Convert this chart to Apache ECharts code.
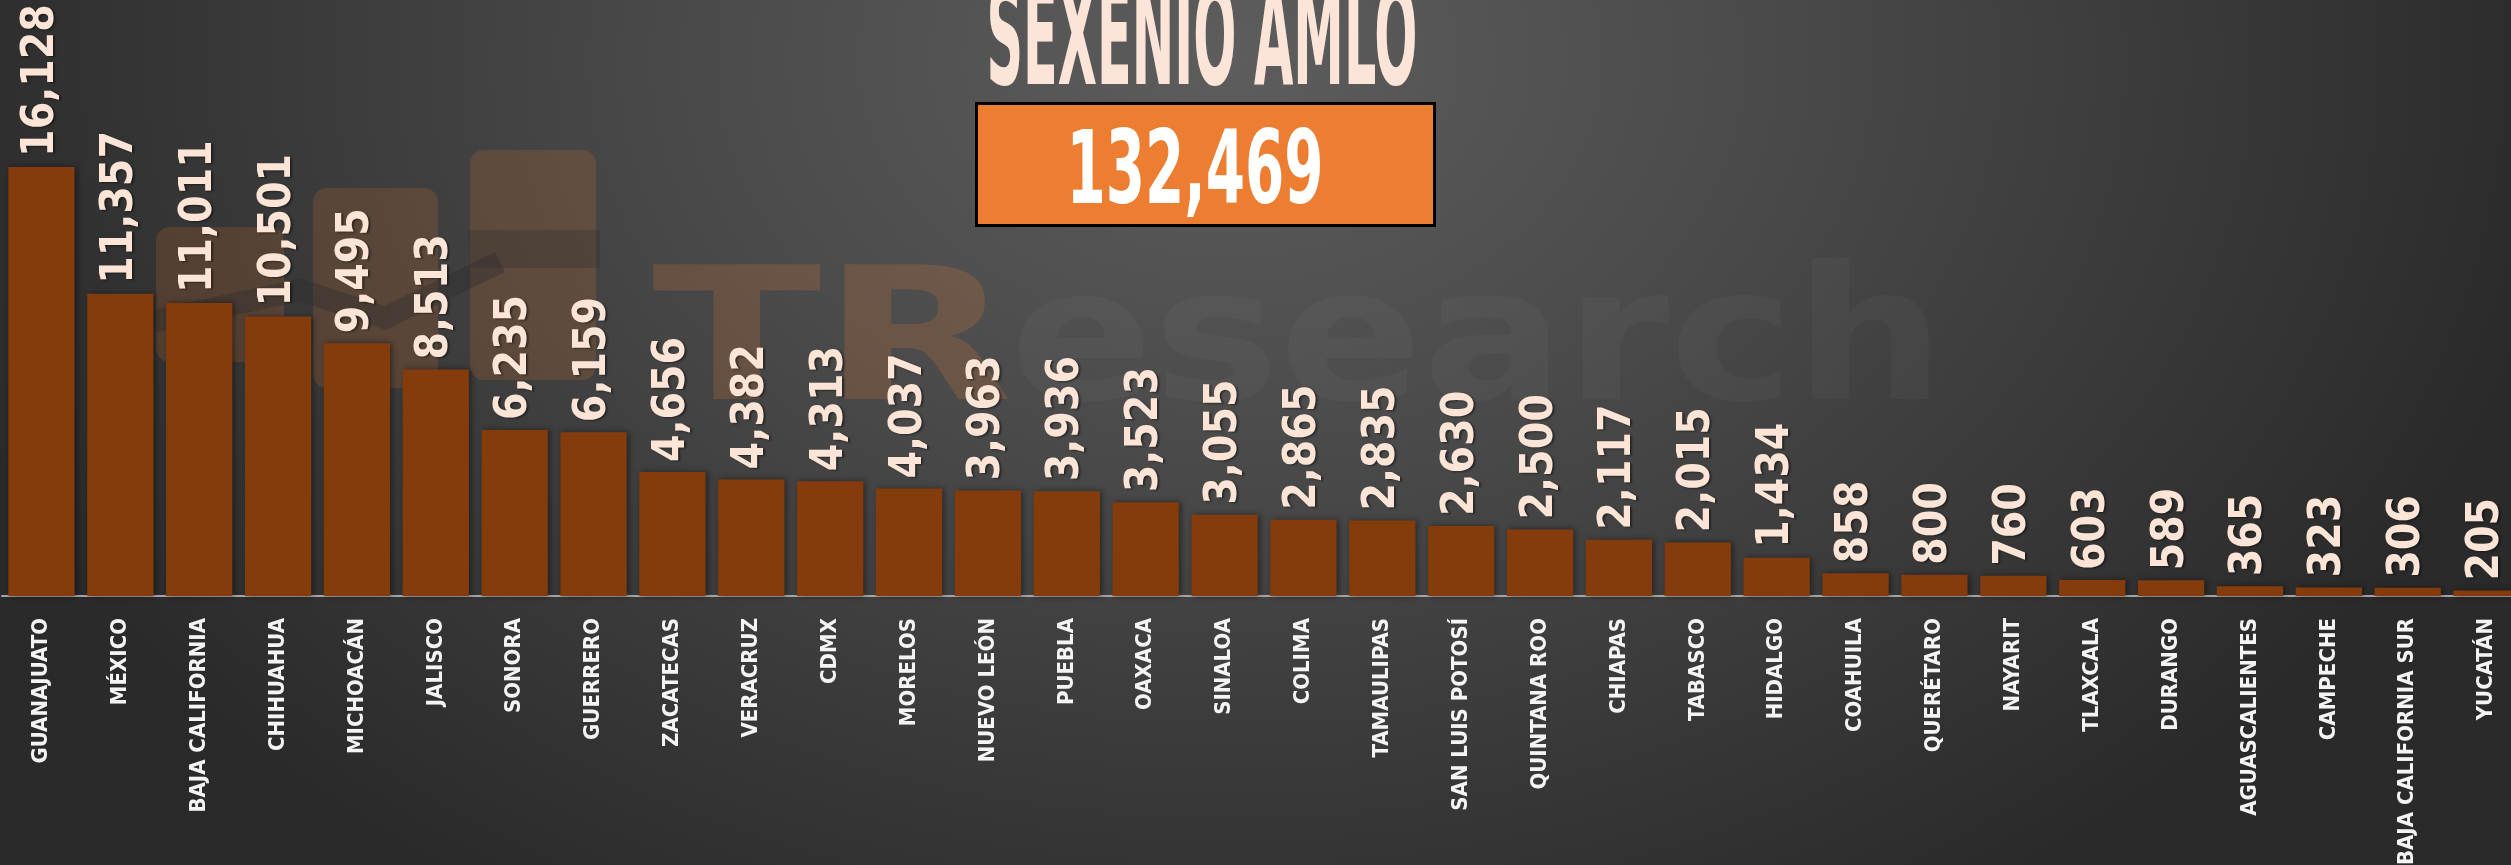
<!DOCTYPE html>
<html>
<head>
<meta charset="utf-8">
<title>Sexenio AMLO</title>
<script src="https://cdn.jsdelivr.net/npm/echarts@6/dist/echarts.min.js"></script>
<style>
  html, body { margin: 0; padding: 0; }
  body {
    width: 2511px;
    height: 865px;
    overflow: hidden;
    background: radial-gradient(ellipse 1350px 1000px at 1230px 60px, #5d5d5d 0%, #4a4a4a 40%, #2a2a2a 100%);
  }
  #chart { width: 2511px; height: 865px; }
</style>
</head>
<body>
<div id="chart"></div>
<script>
// datos por estado
const states = [
  'GUANAJUATO', 'MÉXICO', 'BAJA CALIFORNIA', 'CHIHUAHUA', 'MICHOACÁN', 'JALISCO',
  'SONORA', 'GUERRERO', 'ZACATECAS', 'VERACRUZ', 'CDMX', 'MORELOS', 'NUEVO LEÓN',
  'PUEBLA', 'OAXACA', 'SINALOA', 'COLIMA', 'TAMAULIPAS', 'SAN LUIS POTOSÍ',
  'QUINTANA ROO', 'CHIAPAS', 'TABASCO', 'HIDALGO', 'COAHUILA', 'QUERÉTARO',
  'NAYARIT', 'TLAXCALA', 'DURANGO', 'AGUASCALIENTES', 'CAMPECHE',
  'BAJA CALIFORNIA SUR', 'YUCATÁN'
]
const values = [
  16128, 11357, 11011, 10501, 9495, 8513,
  6235, 6159, 4656, 4382, 4313, 4037, 3963,
  3936, 3523, 3055, 2865, 2835, 2630,
  2500, 2117, 2015, 1434, 858, 800,
  760, 603, 589, 365, 323,
  306, 205
]
const titleText = 'SEXENIO AMLO'
const totalText = '132,469'

const condensed = '"DejaVu Sans Condensed", "DejaVu Sans", sans-serif'

// ancho de un texto, para comprimirlo al aspecto angosto del original
function measure (text, size, family) {
  const ctx = document.createElement('canvas').getContext('2d')
  ctx.font = 'bold ' + size + 'px ' + family
  return ctx.measureText(text).width
}

function initChart () {
  const chartInstance = echarts.init(document.getElementById('chart'), null, { renderer: 'canvas' })

  const titleSize = 137
  const titleScale = 431 / measure(titleText, titleSize, condensed)
  const totalSize = 101
  const totalScale = 257 / measure(totalText, totalSize, condensed)
  // marca de agua: "TR" y "esearch" con su propio ancho
  const wmSize = 185
  const wmScaleTR = 361 / measure('TR', wmSize, condensed)
  const wmScaleRest = 935 / measure('esearch', wmSize, condensed)
  const logoFill = 'rgba(237,125,49,0.17)'

  const option = {
    backgroundColor: 'transparent',
    animation: false,
    grid: {
      left: 2,
      right: -15,
      top: 0,
      bottom: 269,
      containLabel: false,
      outerBoundsMode: 'none'
    },
    xAxis: {
      type: 'category',
      data: states,
      axisTick: { show: false },
      axisLine: { lineStyle: { color: '#a6a6a6', width: 2 } },
      axisLabel: {
        interval: 0,
        rotate: 90,
        margin: 22,
        color: '#f4f4f4',
        fontSize: 22,
        fontWeight: 'bold',
        fontFamily: condensed
      }
    },
    yAxis: {
      type: 'value',
      min: 0,
      max: 22400,
      show: false,
      splitLine: { show: false }
    },
    graphic: [
      // marca de agua (logo + TResearch)
      { type: 'rect', z: 0, shape: { x: 156, y: 227, width: 128, height: 135, r: 14 }, style: { fill: logoFill } },
      { type: 'rect', z: 0, shape: { x: 313, y: 188, width: 125, height: 200, r: 14 }, style: { fill: logoFill } },
      { type: 'rect', z: 0, shape: { x: 470, y: 150, width: 126, height: 230, r: 14 }, style: { fill: logoFill } },
      {
        type: 'polyline', z: 0,
        shape: { points: [[150, 322], [300, 290], [385, 318], [500, 262]] },
        style: { stroke: 'rgba(45,45,45,0.4)', lineWidth: 22, fill: null, lineJoin: 'miter' }
      },
      {
        type: 'polygon', z: 0,
        shape: { points: [[468, 230], [600, 230], [600, 268], [470, 268]] },
        style: { fill: 'rgba(45,45,45,0.3)' }
      },
      {
        type: 'text', z: 0, x: 652, y: 351, scaleX: wmScaleTR,
        style: { text: 'TR', fontSize: wmSize, fontWeight: 'bold', fontFamily: condensed, fill: 'rgba(237,125,49,0.2)', textAlign: 'left', textVerticalAlign: 'middle' }
      },
      {
        type: 'text', z: 0, x: 1010, y: 351, scaleX: wmScaleRest,
        style: { text: 'esearch', fontSize: wmSize, fontWeight: 'bold', fontFamily: condensed, fill: 'rgba(255,255,255,0.03)', textAlign: 'left', textVerticalAlign: 'middle' }
      },
      // titulo
      {
        type: 'text', z: 10, x: 1202, y: 48, scaleX: titleScale,
        style: { text: titleText, fontSize: titleSize, fontWeight: 'bold', fontFamily: condensed, fill: '#fce5d8', textAlign: 'center', textVerticalAlign: 'middle' }
      },
      // caja con el total
      {
        type: 'rect', z: 10,
        shape: { x: 976.5, y: 103.5, width: 458, height: 122 },
        style: { fill: '#ed7d31', stroke: '#000000', lineWidth: 3 }
      },
      {
        type: 'text', z: 11, x: 1195, y: 177, scaleX: totalScale,
        style: { text: totalText, fontSize: totalSize, fontWeight: 'bold', fontFamily: condensed, fill: '#ffffff', textAlign: 'center', textVerticalAlign: 'middle' }
      }
    ],
    series: [
      {
        type: 'bar',
        data: values,
        barCategoryGap: '16%',
        z: 2,
        itemStyle: {
          color: '#843c0c',
          shadowColor: 'rgba(0,0,0,0.45)',
          shadowBlur: 6,
          shadowOffsetX: 2
        },
        label: {
          show: true,
          position: 'top',
          distance: 10,
          rotate: 90,
          align: 'left',
          verticalAlign: 'middle',
          color: '#fce4d6',
          fontSize: 44,
          fontWeight: 'bold',
          fontFamily: condensed,
          textShadowColor: 'rgba(0,0,0,0.45)',
          textShadowBlur: 2,
          textShadowOffsetX: 2,
          textShadowOffsetY: 1,
          formatter: (p) => p.value.toLocaleString('en-US')
        }
      }
    ]
  }
  chartInstance.setOption(option)
}

initChart()
</script>
</body>
</html>
